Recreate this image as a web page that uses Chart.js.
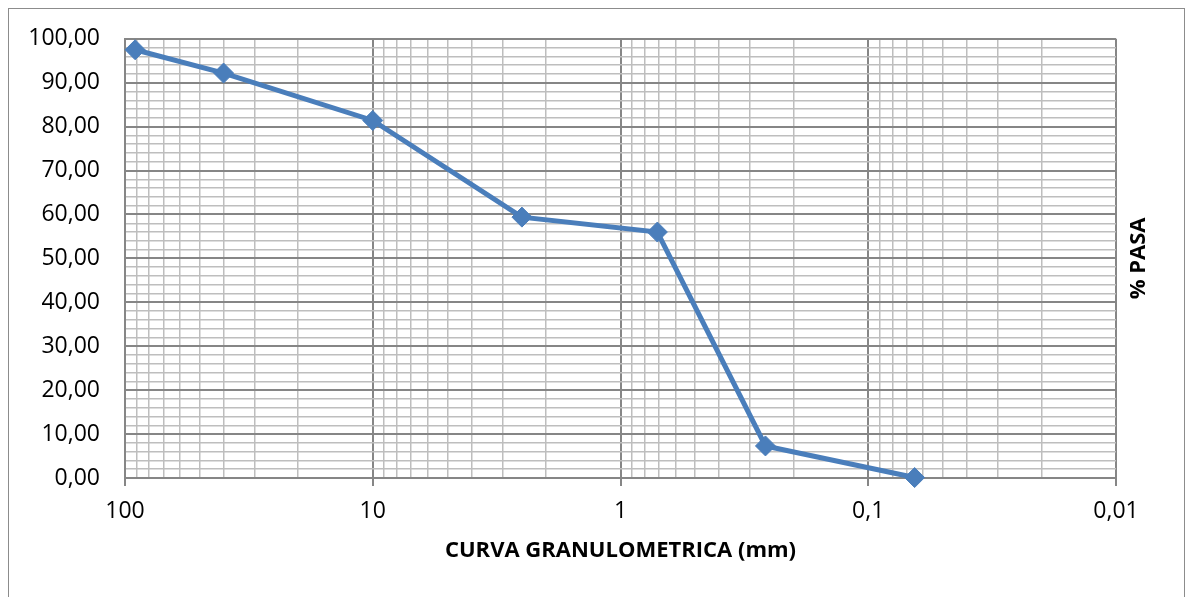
<!DOCTYPE html>
<html>
<head>
<meta charset="utf-8">
<script src="https://cdn.jsdelivr.net/npm/chart.js@4/dist/chart.umd.min.js"></script>
<style>
  html, body { margin: 0; padding: 0; background: #fff; }
  #wrap { position: relative; width: 1186px; height: 597px; }
</style>
</head>
<body>
<div id="wrap"><canvas id="chart" width="1186" height="597"></canvas></div>
<script>
// sieve opening (mm) and % passing
const sizes = [91, 40, 10, 2.5, 0.71, 0.26, 0.065];
const pasa = [97.5, 92.2, 81.4, 59.4, 56.0, 7.3, 0.1];

// axis ranges / tick labels
const decades = [0.01, 0.1, 1, 10, 100];
const decadeLabels = ['0,01', '0,1', '1', '10', '100'];
const yMin = 0, yMax = 100, yStep = 2, yLabelStep = 10;

const xTitle = 'CURVA GRANULOMETRICA (mm)';
const yTitle = '% PASA';

const lineColor = '#4a7ebb';
const minorGrid = '#bebebe';
const majorGrid = '#868686';
const font = 'Open Sans';

const isDecade = v => Math.abs(Math.log10(v) - Math.round(Math.log10(v))) < 1e-9;

// gridline positions 1..9 x 10^n between the decades
const xTickValues = [];
decades.slice(0, -1).forEach(d => {
  for (let m = 1; m < 10; m++) xTickValues.push(+(d * m).toPrecision(6));
});
xTickValues.push(decades[decades.length - 1]);

const frame = {
  id: 'frame',
  beforeDraw(chart) {
    const c = chart.ctx;
    c.save();
    c.fillStyle = '#fff';
    c.fillRect(0, 0, chart.width, chart.height);
    c.strokeStyle = '#8c8c8c';
    c.lineWidth = 1;
    c.strokeRect(8.5, 8.5, 1176, 620);
    c.restore();
  },
  afterDraw(chart) {
    const c = chart.ctx;
    const area = chart.chartArea;
    c.save();
    c.translate(1139, (area.top + area.bottom) / 2);
    c.rotate(-Math.PI / 2);
    c.font = 'bold 22px "' + font + '"';
    c.fillStyle = '#000';
    c.textAlign = 'center';
    c.textBaseline = 'middle';
    c.fillText(yTitle, 0, 0);
    c.restore();
  }
};

new Chart(document.getElementById('chart').getContext('2d'), {
  type: 'line',
  data: {
    datasets: [{
      data: sizes.map((s, i) => ({ x: s, y: pasa[i] })),
      borderColor: lineColor,
      backgroundColor: lineColor,
      borderWidth: 5,
      pointStyle: 'rectRot',
      pointRadius: 10,
      pointBorderWidth: 1,
      pointBackgroundColor: lineColor,
      pointBorderColor: lineColor,
      tension: 0,
      clip: false
    }]
  },
  options: {
    responsive: false,
    animation: false,
    devicePixelRatio: 1,
    layout: { padding: { left: 0, top: 38, right: 70, bottom: 0 } },
    plugins: {
      legend: { display: false },
      tooltip: { enabled: false }
    },
    scales: {
      x: {
        type: 'logarithmic',
        reverse: true,
        min: decades[0],
        max: decades[decades.length - 1],
        afterBuildTicks(scale) {
          scale.ticks = xTickValues.map(v => ({ value: v }));
        },
        afterFit(scale) { scale.height = 119; },
        ticks: {
          autoSkip: false,
          maxRotation: 0,
          padding: 12,
          color: '#000',
          font: { family: font, size: 23 },
          callback(value) {
            const i = decades.findIndex(d => Math.abs(d - value) / d < 1e-6);
            return i >= 0 ? decadeLabels[i] : '';
          }
        },
        grid: {
          color: ctx => isDecade(ctx.tick.value) ? majorGrid : minorGrid,
          lineWidth: ctx => isDecade(ctx.tick.value) ? 2 : 1.5,
          tickColor: ctx => isDecade(ctx.tick.value) ? majorGrid : 'rgba(0,0,0,0)',
          tickLength: 8
        },
        border: { color: majorGrid, width: 2 },
        title: {
          display: true,
          text: xTitle,
          color: '#000',
          font: { family: font, size: 22, weight: 'bold' },
          padding: { top: 0, bottom: 33 }
        }
      },
      y: {
        min: yMin,
        max: yMax,
        afterFit(scale) { scale.width = 125; },
        ticks: {
          stepSize: yStep,
          autoSkip: false,
          padding: 25,
          color: '#000',
          font: { family: font, size: 23 },
          callback(value) {
            return value % yLabelStep === 0 ? value.toFixed(2).replace('.', ',') : '';
          }
        },
        grid: {
          drawTicks: false,
          color: ctx => ctx.tick.value % yLabelStep === 0 ? majorGrid : minorGrid,
          lineWidth: ctx => ctx.tick.value % yLabelStep === 0 ? 2 : 1.5
        },
        border: { color: majorGrid, width: 2 }
      }
    }
  },
  plugins: [frame]
});
</script>
</body>
</html>
